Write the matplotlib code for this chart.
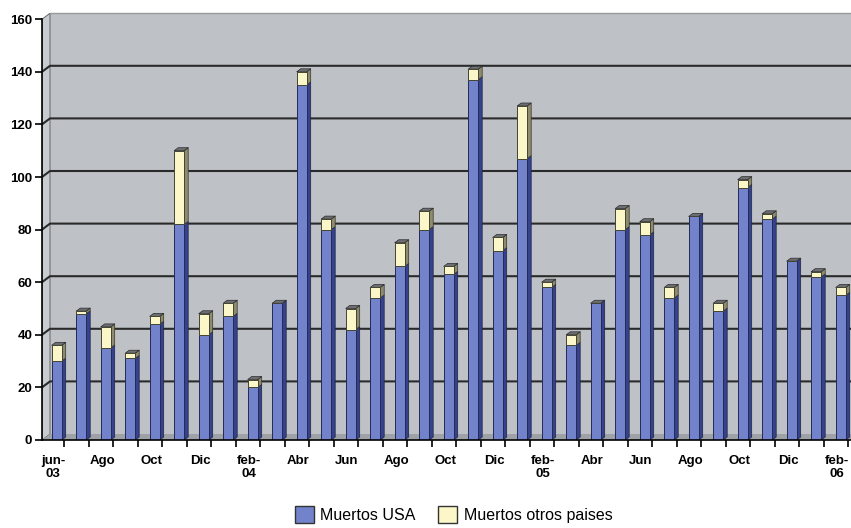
import matplotlib.pyplot as plt
from matplotlib.patches import Polygon, Patch
from matplotlib.collections import PolyCollection

# Muertos mensuales, jun-03 .. feb-06
meses = ["jun-\n03", "", "Ago", "", "Oct", "", "Dic", "", "feb-\n04", "", "Abr", "",
         "Jun", "", "Ago", "", "Oct", "", "Dic", "", "feb-\n05", "", "Abr", "",
         "Jun", "", "Ago", "", "Oct", "", "Dic", "", "feb-\n06"]
muertos_usa = [30, 48, 35, 31, 44, 82, 40, 47, 20, 52, 135, 80, 42, 54, 66, 80, 63,
               137, 72, 107, 58, 36, 52, 80, 78, 54, 85, 49, 96, 84, 68, 62, 55]
muertos_otros = [6, 1, 8, 2, 3, 28, 8, 5, 3, 0, 5, 4, 8, 4, 9, 7, 3,
                 4, 5, 20, 2, 4, 0, 8, 5, 4, 0, 3, 3, 2, 0, 2, 3]

AZUL, AZUL_LADO = "#7283cc", "#36428c"
CREMA, CREMA_LADO = "#fcf7c8", "#8e8b6e"
TAPA = "#6c6e72"
PARED, PARED_IZQ, SUELO = "#bec2c6", "#c8ccd0", "#9ea2a6"

W, H = 851, 528
fig = plt.figure(figsize=(W / 100, H / 100), dpi=100)
fig.patch.set_facecolor("white")

px_x = 24.5            # pixels per month
px_y = 2.63            # pixels per death
x0 = -0.6
x1 = x0 + (W - 42) / px_x
ytop = 164
ax = fig.add_axes([42 / W, 88 / H, (W - 42) / W, ytop * px_y / H])
ax.set_xlim(x0, x1)
ax.set_ylim(0, ytop)
ax.set_facecolor("white")

# 3D depth of walls and of bars, in data units
sx, sy = 8 / px_x, 6 / px_y
bx, by = 4 / px_x, 3 / px_y
ancho = 10 / px_x

# walls and floor
ax.add_patch(Polygon([(x0 + sx, sy), (x1 + 1, sy), (x1 + 1, 160 + sy), (x0 + sx, 160 + sy)],
                     closed=True, facecolor=PARED, edgecolor="none", zorder=0))
ax.add_patch(Polygon([(x0, 0), (x0 + sx, sy), (x0 + sx, 160 + sy), (x0, 160)],
                     closed=True, facecolor=PARED_IZQ, edgecolor="#555555", lw=0.6, zorder=0))
ax.add_patch(Polygon([(x0, 0), (x1 + 1, 0), (x1 + 1, sy), (x0 + sx, sy)],
                     closed=True, facecolor=SUELO, edgecolor="none", zorder=0.5))
ax.plot([x0 + sx, x1 + 1], [160 + sy, 160 + sy], color="#999999", lw=1.0, zorder=0.6)

for v in range(20, 160, 20):
    ax.plot([x0, x0 + sx, x1 + 1], [v, v + sy, v + sy], color="#2a2a2a", lw=1.5, zorder=1)

# bars: front faces through ax.bar, side and top faces as polygons
idx = list(range(len(muertos_usa)))
total = [u + o for u, o in zip(muertos_usa, muertos_otros)]
ax.bar(idx, muertos_usa, width=ancho, color=AZUL, edgecolor="#222a55", lw=0.7, zorder=3)
ax.bar(idx, muertos_otros, bottom=muertos_usa, width=ancho, color=CREMA,
       edgecolor="#444433", lw=0.7, zorder=3)

lados_azul, lados_crema, tapas = [], [], []
for i, u, t in zip(idx, muertos_usa, total):
    r = i + ancho / 2
    l = i - ancho / 2
    lados_azul.append([(r, 0), (r + bx, by), (r + bx, u + by), (r, u)])
    if t > u:
        lados_crema.append([(r, u), (r + bx, u + by), (r + bx, t + by), (r, t)])
    tapas.append([(l, t), (r, t), (r + bx, t + by), (l + bx, t + by)])

ax.add_collection(PolyCollection(lados_azul, facecolors=AZUL_LADO, edgecolors="#1c2244",
                                 linewidths=0.5, zorder=2.9))
ax.add_collection(PolyCollection(lados_crema, facecolors=CREMA_LADO, edgecolors="#33332a",
                                 linewidths=0.5, zorder=2.9))
ax.add_collection(PolyCollection(tapas, facecolors=TAPA, edgecolors="#2a2a2a",
                                 linewidths=0.5, zorder=2.9))

# axes
for s in ["top", "right"]:
    ax.spines[s].set_visible(False)
ax.spines["left"].set_bounds(0, 160)
ax.spines["left"].set_linewidth(1.2)
ax.spines["bottom"].set_linewidth(1.2)
ax.spines["left"].set_zorder(4)
ax.spines["bottom"].set_zorder(4)

ax.set_yticks(range(0, 161, 20))
ax.set_yticklabels([str(v) for v in range(0, 161, 20)], fontsize=9.5,
                   fontweight="bold", family="Liberation Sans")
ax.tick_params(axis="y", length=5, width=1.2, pad=2)

ax.set_xticks([i - 0.15 for i in idx])
ax.set_xticklabels(meses, fontsize=9.5, fontweight="bold", family="Liberation Sans",
                   linespacing=1.05, va="top")
ax.tick_params(axis="x", which="major", length=0, pad=11)
ax.set_xticks([i + 0.3 for i in idx], minor=True)
ax.tick_params(axis="x", which="minor", length=5, width=1.2)

handles = [Patch(facecolor=AZUL, edgecolor="#333333", label="Muertos USA"),
           Patch(facecolor=CREMA, edgecolor="#333333", label="Muertos otros paises")]
fig.legend(handles=handles, loc="center", bbox_to_anchor=(0.533, 0.026), ncol=2,
           frameon=False, handlelength=1.2, handleheight=1.3,
           handletextpad=0.4, columnspacing=1.4, prop={"family": "Liberation Sans", "size": 11.5})

fig.savefig("out.png", dpi=100)
